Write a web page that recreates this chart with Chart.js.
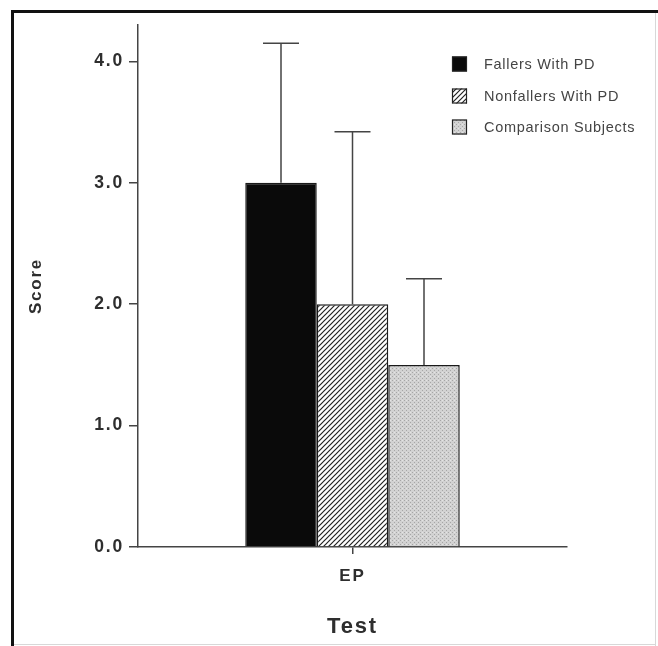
<!DOCTYPE html>
<html>
<head>
<meta charset="utf-8">
<style>
  html, body { margin: 0; padding: 0; background: #fff; }
  #c { display: block; }
</style>
</head>
<body>
<canvas id="c" width="658" height="646"></canvas>
<script src="https://cdn.jsdelivr.net/npm/chart.js"></script>
<script>
  // donnees
  var categories = ['EP'];
  var seriesNames = ['Fallers With PD', 'Nonfallers With PD', 'Comparison Subjects'];
  var fallers = [3.0];
  var nonfallers = [2.0];
  var comparison = [1.5];
  var fallersErr = [1.15];
  var nonfallersErr = [1.42];
  var comparisonErr = [0.71];
  var yTicks = [0, 1, 2, 3, 4];

  var FONT = "'Liberation Sans', Arial, Helvetica, sans-serif";
  var TEXT = '#2e2e2e';
  var AXIS = '#444444';

  // motifs de remplissage
  function hatchPattern() {
    var s = 5;
    var p = document.createElement('canvas');
    p.width = s; p.height = s;
    var g = p.getContext('2d');
    g.fillStyle = '#ffffff';
    g.fillRect(0, 0, s, s);
    g.strokeStyle = '#222222';
    g.lineWidth = 1.2;
    g.beginPath();
    g.moveTo(0, s); g.lineTo(s, 0);
    g.moveTo(-1, 1); g.lineTo(1, -1);
    g.moveTo(s - 1, s + 1); g.lineTo(s + 1, s - 1);
    g.stroke();
    return g.createPattern(p, 'repeat');
  }
  function stipplePattern() {
    var p = document.createElement('canvas');
    p.width = 4; p.height = 4;
    var g = p.getContext('2d');
    g.fillStyle = '#d2d2d2';
    g.fillRect(0, 0, 4, 4);
    g.fillStyle = '#a6a6a6';
    g.fillRect(0, 0, 1, 1);
    g.fillRect(2, 2, 1, 1);
    g.fillStyle = '#e4e4e4';
    g.fillRect(2, 0, 1, 1);
    return g.createPattern(p, 'repeat');
  }

  var ctx = document.getElementById('c').getContext('2d');
  var fills = ['#0a0a0a', hatchPattern(), stipplePattern()];
  var errs = [fallersErr, nonfallersErr, comparisonErr];

  var spacingPlugin = {
    id: 'spacing',
    beforeLayout: function (chart) { chart.ctx.letterSpacing = '1.8px'; },
    beforeDraw: function (chart) { chart.ctx.letterSpacing = '1.8px'; }
  };

  // barres d'erreur (vers le haut seulement)
  var errorBars = {
    id: 'errorBars',
    afterDatasetsDraw: function (chart) {
      var c = chart.ctx, y = chart.scales.y;
      c.save();
      c.strokeStyle = AXIS;
      c.lineWidth = 1.5;
      chart.data.datasets.forEach(function (ds, i) {
        var meta = chart.getDatasetMeta(i);
        meta.data.forEach(function (bar, j) {
          var top = y.getPixelForValue(ds.data[j] + errs[i][j]);
          c.beginPath();
          c.moveTo(bar.x, bar.y);
          c.lineTo(bar.x, top);
          c.moveTo(bar.x - 18, top);
          c.lineTo(bar.x + 18, top);
          c.stroke();
        });
      });
      c.restore();
    }
  };

  // legende et cadre
  var legendFrame = {
    id: 'legendFrame',
    afterDraw: function (chart) {
      var c = chart.ctx;
      c.save();
      c.letterSpacing = '0.7px';
      c.font = '14.5px ' + FONT;
      c.textBaseline = 'middle';
      var rows = [64, 96, 127];
      chart.data.datasets.forEach(function (ds, i) {
        c.fillStyle = ds.backgroundColor;
        c.fillRect(452, rows[i] - 7.5, 15, 15);
        c.strokeStyle = '#222';
        c.lineWidth = 1.2;
        c.strokeRect(452.5, rows[i] - 7, 14, 14);
        c.fillStyle = '#444444';
        c.fillText(ds.label, 484, rows[i] + 1);
      });
      // cadre
      c.fillStyle = '#111';
      c.fillRect(11, 10, 3, 636);
      c.fillRect(11, 10, 647, 3);
      c.fillStyle = '#d8d8d8';
      c.fillRect(655, 13, 1, 633);
      c.fillRect(14, 644, 641, 1);
      c.restore();
    }
  };

  var chart = new Chart(ctx, {
    type: 'bar',
    data: {
      labels: categories,
      datasets: [
        { label: seriesNames[0], data: fallers, backgroundColor: fills[0] },
        { label: seriesNames[1], data: nonfallers, backgroundColor: fills[1] },
        { label: seriesNames[2], data: comparison, backgroundColor: fills[2] }
      ]
    },
    options: {
      responsive: false,
      animation: false,
      devicePixelRatio: 1,
      categoryPercentage: 0.5,
      barPercentage: 1.0,
      datasets: {
        bar: { borderColor: '#1a1a1a', borderWidth: 1.5 }
      },
      layout: { padding: { left: 0, right: 91, top: 25, bottom: 0 } },
      plugins: {
        legend: { display: false },
        tooltip: { enabled: false }
      },
      scales: {
        x: {
          grid: { display: true, drawOnChartArea: false, drawTicks: true, tickLength: 7, offset: false, color: AXIS, lineWidth: 1.5 },
          border: { display: true, color: AXIS, width: 1.5 },
          ticks: { color: TEXT, padding: 12, font: { family: FONT, size: 17, weight: 'bold' } },
          title: { display: true, text: 'Test', color: TEXT, padding: { top: 0, bottom: 6 }, font: { family: FONT, size: 22, weight: 'bold' } },
          afterFit: function (s) { s.height = 99; }
        },
        y: {
          min: 0,
          max: 4.3,
          afterBuildTicks: function (s) { s.ticks = yTicks.map(function (v) { return { value: v }; }); },
          grid: { display: true, drawOnChartArea: false, drawTicks: true, tickLength: 9, color: AXIS, lineWidth: 1.5 },
          border: { display: true, color: AXIS, width: 1.5 },
          ticks: {
            color: TEXT, padding: 5,
            font: { family: FONT, size: 17.5, weight: 'bold' },
            callback: function (v) { return Number(v).toFixed(1); }
          },
          title: { display: true, text: 'Score', color: TEXT, padding: { top: 26, bottom: 0 }, font: { family: FONT, size: 17, weight: 'bold' } },
          afterFit: function (s) { s.width = 138; }
        }
      }
    },
    plugins: [spacingPlugin, errorBars, legendFrame]
  });
</script>
</body>
</html>
